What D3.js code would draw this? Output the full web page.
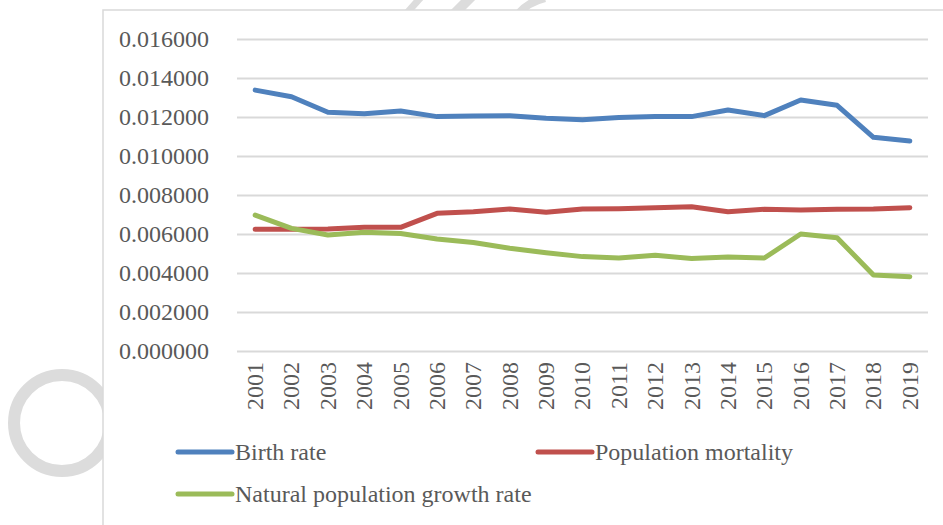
<html>
<script src="https://d3js.org/d3.v7.min.js"></script>
<style>
body {margin: 0; background: white;}
text {font-family: "Liberation Serif", "Times New Roman", serif; fill: #595959;}
</style>
<body>
<svg id="chart" width="943" height="525"></svg>
<script>
// data
var years = ["2001","2002","2003","2004","2005","2006","2007","2008","2009","2010",
             "2011","2012","2013","2014","2015","2016","2017","2018","2019"];
var birthRate = [0.01338, 0.01304, 0.01224, 0.01217, 0.01231, 0.01202, 0.01205, 0.01207, 0.01193, 0.01186,
                 0.01197, 0.01203, 0.01202, 0.01236, 0.01207, 0.01287, 0.01260, 0.01096, 0.01077];
var mortality = [0.00624, 0.00624, 0.00626, 0.00634, 0.00634, 0.00706, 0.00714, 0.00728, 0.00711, 0.00728,
                 0.00730, 0.00735, 0.00740, 0.00714, 0.00727, 0.00723, 0.00727, 0.00728, 0.00735];
var growthRate = [0.00697, 0.00629, 0.00595, 0.00609, 0.00603, 0.00574, 0.00556, 0.00527, 0.00504, 0.00484,
                  0.00477, 0.00491, 0.00474, 0.00482, 0.00477, 0.00600, 0.00581, 0.00390, 0.00381];
var yTicks = [0, 0.002, 0.004, 0.006, 0.008, 0.010, 0.012, 0.014, 0.016];
var seriesNames = ["Birth rate", "Population mortality", "Natural population growth rate"];
var seriesColors = ["#4F81BD", "#C0504D", "#9BBB59"];

var svg = d3.select("#chart");

//watermark behind the chart area
var wm = svg.append("g").attr("fill", "none").attr("stroke", "#dcdcdc");
wm.append("circle").attr("cx", 62).attr("cy", 423).attr("r", 48).attr("stroke-width", 12);
wm.append("line").attr("x1", 406).attr("y1", 14).attr("x2", 422).attr("y2", -4).attr("stroke-width", 7);
wm.append("line").attr("x1", 454).attr("y1", 14).attr("x2", 474).attr("y2", -6).attr("stroke-width", 10);
wm.append("path").attr("d", "M518,14 Q528,2 545,-2").attr("stroke-width", 8);

//chart area
svg.append("rect")
    .attr("x", 103).attr("y", 10)
    .attr("width", 860).attr("height", 540)
    .attr("fill", "white")
    .attr("stroke", "#d9d9d9")
    .attr("stroke-width", 1.5);

//scales
var plotLeft = 237, plotRight = 928, plotTop = 39, plotBottom = 351;
var xscale = d3.scaleBand().domain(years).range([plotLeft, plotRight]);
var yscale = d3.scaleLinear().domain([0, 0.016]).range([plotBottom, plotTop]);

//y axis + gridlines
var yaxis = svg.append("g")
    .attr("transform", "translate(" + plotLeft + ",0)")
    .call(d3.axisLeft(yscale).tickValues(yTicks).tickFormat(d3.format(".6f"))
        .tickSize(-(plotRight - plotLeft)).tickPadding(28));
yaxis.select(".domain").remove();
yaxis.selectAll(".tick line").attr("stroke", "#d9d9d9").attr("stroke-width", 2);
yaxis.selectAll(".tick text")
    .attr("font-family", "Liberation Serif, serif")
    .attr("font-size", 24)
    .attr("fill", "#595959");

//x axis labels
var xaxis = svg.append("g")
    .attr("transform", "translate(0," + plotBottom + ")")
    .call(d3.axisBottom(xscale).tickSize(0));
xaxis.select(".domain").remove();
xaxis.selectAll(".tick text")
    .attr("font-family", "Liberation Serif, serif")
    .attr("font-size", 24)
    .attr("fill", "#595959")
    .attr("text-anchor", "end")
    .attr("x", 0).attr("y", 0)
    .attr("dy", "0.33em")
    .attr("transform", "translate(0,11) rotate(-90)");

//lines
var line = d3.line()
    .x(function(d, i) { return xscale(years[i]) + xscale.bandwidth() / 2; })
    .y(function(d) { return yscale(d); });
[birthRate, mortality, growthRate].forEach(function(s, i) {
    svg.append("path")
        .datum(s)
        .attr("d", line)
        .attr("fill", "none")
        .attr("stroke", seriesColors[i])
        .attr("stroke-width", 5)
        .attr("stroke-linecap", "round")
        .attr("stroke-linejoin", "round");
});

//legend
var legendPos = [[178, 452], [538, 452], [178, 494]];
seriesNames.forEach(function(name, i) {
    var p = legendPos[i];
    svg.append("line")
        .attr("x1", p[0]).attr("y1", p[1]).attr("x2", p[0] + 54).attr("y2", p[1])
        .attr("stroke", seriesColors[i]).attr("stroke-width", 5).attr("stroke-linecap", "round");
    svg.append("text")
        .attr("x", p[0] + 57).attr("y", p[1] + 8)
        .attr("font-size", 24)
        .text(name);
});
</script>
</body>
</html>
